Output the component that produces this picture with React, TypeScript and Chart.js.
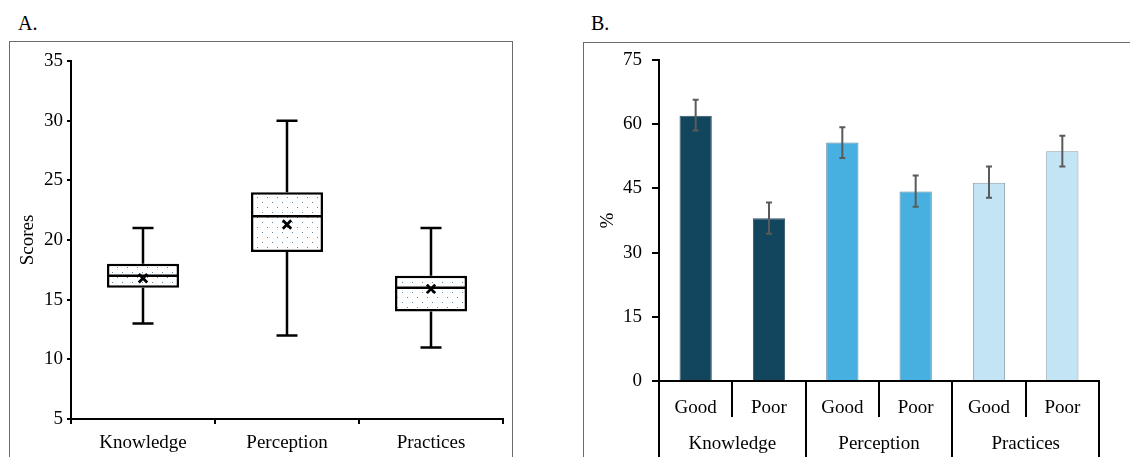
import React, { useEffect, useRef } from 'react';
import { Chart, registerables } from 'chart.js';

Chart.register(...registerables);

// ---- Panel A data (box plot) ----
const boxCategories = ['Knowledge', 'Perception', 'Practices'];
const boxMin = [13, 12, 11];
const boxQ1 = [16, 19, 14];
const boxMedian = [17, 22, 16];
const boxQ3 = [18, 24, 17];
const boxMax = [21, 30, 21];
const boxMean = [16.8, 21.3, 15.9];

// ---- Panel B data (bar chart with error bars) ----
const barLevels = ['Good', 'Poor', 'Good', 'Poor', 'Good', 'Poor'];
const barGroups = ['Knowledge', 'Perception', 'Practices'];
const barValues = [62.0, 38.0, 55.7, 44.3, 46.3, 53.7];
const barErrLow = [58.5, 34.4, 52.1, 40.7, 42.8, 50.1];
const barErrHigh = [65.7, 41.7, 59.3, 48.0, 50.1, 57.3];
const barColors = ['#12465F', '#12465F', '#48B0E0', '#48B0E0', '#C3E4F4', '#C3E4F4'];
const barBorders = ['#34505f', '#34505f', '#5a86a0', '#5a86a0', '#8a9ea8', '#8a9ea8'];

const FONT = "'Liberation Serif', 'Times New Roman', serif";
const W = 565;
const H = 457;

function makeDotPattern(): CanvasPattern | string {
  const c = document.createElement('canvas');
  c.width = 10;
  c.height = 10;
  const g = c.getContext('2d');
  if (!g) return '#ffffff';
  g.fillStyle = '#ffffff';
  g.fillRect(0, 0, 10, 10);
  g.fillStyle = '#4f86b5';
  g.fillRect(2, 2, 1, 1);
  g.fillRect(7, 7, 1, 1);
  const p = g.createPattern(c, 'repeat');
  return p || '#ffffff';
}

const boxPlugin = {
  id: 'boxWhiskers',
  afterDatasetsDraw(chart: any) {
    const ctx = chart.ctx;
    const xs = chart.scales.x;
    const ys = chart.scales.y;
    const meta = chart.getDatasetMeta(0);
    ctx.save();
    ctx.strokeStyle = '#000';
    ctx.lineCap = 'butt';
    boxCategories.forEach((_, i) => {
      const x = xs.getPixelForValue(i);
      const bw = meta.data[i].width;
      const capHalf = 10.5;
      const yMin = ys.getPixelForValue(boxMin[i]);
      const yQ1 = ys.getPixelForValue(boxQ1[i]);
      const yQ3 = ys.getPixelForValue(boxQ3[i]);
      const yMax = ys.getPixelForValue(boxMax[i]);
      const yMed = ys.getPixelForValue(boxMedian[i]);
      const yMean = ys.getPixelForValue(boxMean[i]);
      ctx.lineWidth = 2.5;
      ctx.beginPath();
      ctx.moveTo(x, yQ3);
      ctx.lineTo(x, yMax);
      ctx.moveTo(x - capHalf, yMax);
      ctx.lineTo(x + capHalf, yMax);
      ctx.moveTo(x, yQ1);
      ctx.lineTo(x, yMin);
      ctx.moveTo(x - capHalf, yMin);
      ctx.lineTo(x + capHalf, yMin);
      ctx.moveTo(x - bw / 2, yMed);
      ctx.lineTo(x + bw / 2, yMed);
      ctx.stroke();
      ctx.lineWidth = 2.8;
      const m = 4.2;
      ctx.beginPath();
      ctx.moveTo(x - m, yMean - m);
      ctx.lineTo(x + m, yMean + m);
      ctx.moveTo(x + m, yMean - m);
      ctx.lineTo(x - m, yMean + m);
      ctx.stroke();
    });
    ctx.restore();
  },
};

const errorPlugin = {
  id: 'errorBars',
  afterDatasetsDraw(chart: any) {
    const ctx = chart.ctx;
    const ys = chart.scales.y;
    const meta = chart.getDatasetMeta(0);
    ctx.save();
    ctx.strokeStyle = '#5a5a5a';
    ctx.lineWidth = 2;
    barValues.forEach((_, i) => {
      const x = meta.data[i].x;
      const yl = ys.getPixelForValue(barErrLow[i]);
      const yh = ys.getPixelForValue(barErrHigh[i]);
      const c = 3;
      ctx.beginPath();
      ctx.moveTo(x, yl);
      ctx.lineTo(x, yh);
      ctx.moveTo(x - c, yh);
      ctx.lineTo(x + c, yh);
      ctx.moveTo(x - c, yl);
      ctx.lineTo(x + c, yl);
      ctx.stroke();
    });
    ctx.restore();
  },
};

function BoxChart() {
  const ref = useRef<HTMLCanvasElement>(null);
  useEffect(() => {
    if (!ref.current) return;
    const chart = new Chart(ref.current, {
      type: 'bar',
      data: {
        labels: boxCategories,
        datasets: [
          {
            data: boxCategories.map((_, i) => [boxQ1[i], boxQ3[i]]) as any,
            backgroundColor: makeDotPattern() as any,
            borderColor: '#000',
            borderWidth: 2.5,
            borderSkipped: false,
            barPercentage: 0.5,
            categoryPercentage: 1,
          },
        ],
      },
      options: {
        animation: false,
        responsive: false,
        events: [],
        layout: { padding: { left: 0, right: 62, top: 61, bottom: 0 } },
        plugins: { legend: { display: false }, tooltip: { enabled: false } },
        scales: {
          x: {
            offset: true,
            grid: { offset: true, drawOnChartArea: false, color: '#000', lineWidth: 2, tickLength: 5 },
            border: { color: '#000', width: 2 },
            ticks: { color: '#000', font: { family: FONT, size: 19 }, padding: 8, maxRotation: 0 },
            afterFit(s: any) {
              s.height = 38;
            },
          },
          y: {
            min: 5,
            max: 35,
            ticks: { stepSize: 5, color: '#000', font: { family: FONT, size: 19 }, padding: 4 },
            grid: { drawOnChartArea: false, color: '#000', lineWidth: 2, tickLength: 4 },
            border: { color: '#000', width: 2 },
            title: { display: true, text: 'Scores', color: '#000', font: { family: FONT, size: 19 }, padding: { top: 17, bottom: 0 } },
            afterFit(s: any) {
              s.width = 71;
            },
          },
        },
      },
      plugins: [boxPlugin],
    });
    return () => chart.destroy();
  }, []);
  return <canvas ref={ref} width={W} height={H} style={{ width: W, height: H, display: 'block' }} />;
}

function BarChart() {
  const ref = useRef<HTMLCanvasElement>(null);
  useEffect(() => {
    if (!ref.current) return;
    const chart = new Chart(ref.current, {
      type: 'bar',
      data: {
        labels: barLevels,
        datasets: [
          {
            data: barValues,
            backgroundColor: barColors,
            borderColor: barBorders,
            borderWidth: 1,
            barPercentage: 0.44,
            categoryPercentage: 1,
          },
        ],
      },
      options: {
        animation: false,
        responsive: false,
        events: [],
        layout: { padding: { left: 0, right: 31, top: 60, bottom: 0 } },
        plugins: { legend: { display: false }, tooltip: { enabled: false } },
        scales: {
          x: {
            weight: 0,
            offset: true,
            grid: { offset: true, drawOnChartArea: false, color: '#000', lineWidth: 2, tickLength: 36 },
            border: { color: '#000', width: 2 },
            ticks: { color: '#000', font: { family: FONT, size: 19 }, padding: -20, maxRotation: 0 },
            afterFit(s: any) {
              s.height = 36;
            },
          },
          x2: {
            type: 'category',
            position: 'bottom',
            weight: 1,
            labels: barGroups,
            offset: true,
            grid: { offset: true, drawOnChartArea: false, color: '#000', lineWidth: 2, tickLength: 40 },
            border: { display: false },
            ticks: { color: '#000', font: { family: FONT, size: 19 }, padding: -24, maxRotation: 0 },
            afterFit(s: any) {
              s.height = 40;
            },
          } as any,
          y: {
            min: 0,
            max: 75,
            ticks: { stepSize: 15, color: '#000', font: { family: FONT, size: 19 }, padding: 10 },
            grid: { drawOnChartArea: false, color: '#000', lineWidth: 2, tickLength: 7 },
            border: { color: '#000', width: 2 },
            title: { display: true, text: '%', color: '#000', font: { family: FONT, size: 19 }, padding: { top: 32, bottom: 0 } },
            afterFit(s: any) {
              s.width = 94;
            },
          },
        },
      },
      plugins: [errorPlugin],
    });
    return () => chart.destroy();
  }, []);
  return <canvas ref={ref} width={W} height={H} style={{ width: W, height: H, display: 'block' }} />;
}

export default function App() {
  const label: React.CSSProperties = {
    position: 'absolute',
    top: 13,
    fontFamily: FONT,
    fontSize: 20,
    lineHeight: '20px',
    color: '#000',
  };
  return (
    <div style={{ position: 'fixed', left: 0, top: 0, width: 1130, height: 457, background: '#fff', overflow: 'hidden' }}>
      <div style={{ position: 'absolute', left: 9, top: 41, width: 504, height: 460, border: '1.5px solid #6b6b6b', boxSizing: 'border-box' }} />
      <div style={{ position: 'absolute', left: 583, top: 42, width: 600, height: 460, border: '1.5px solid #6b6b6b', boxSizing: 'border-box' }} />
      <div style={{ ...label, left: 18 }}>A.</div>
      <div style={{ ...label, left: 591 }}>B.</div>
      <div style={{ position: 'absolute', left: 0, top: 0 }}>
        <BoxChart />
      </div>
      <div style={{ position: 'absolute', left: 565, top: 0 }}>
        <BarChart />
      </div>
    </div>
  );
}
